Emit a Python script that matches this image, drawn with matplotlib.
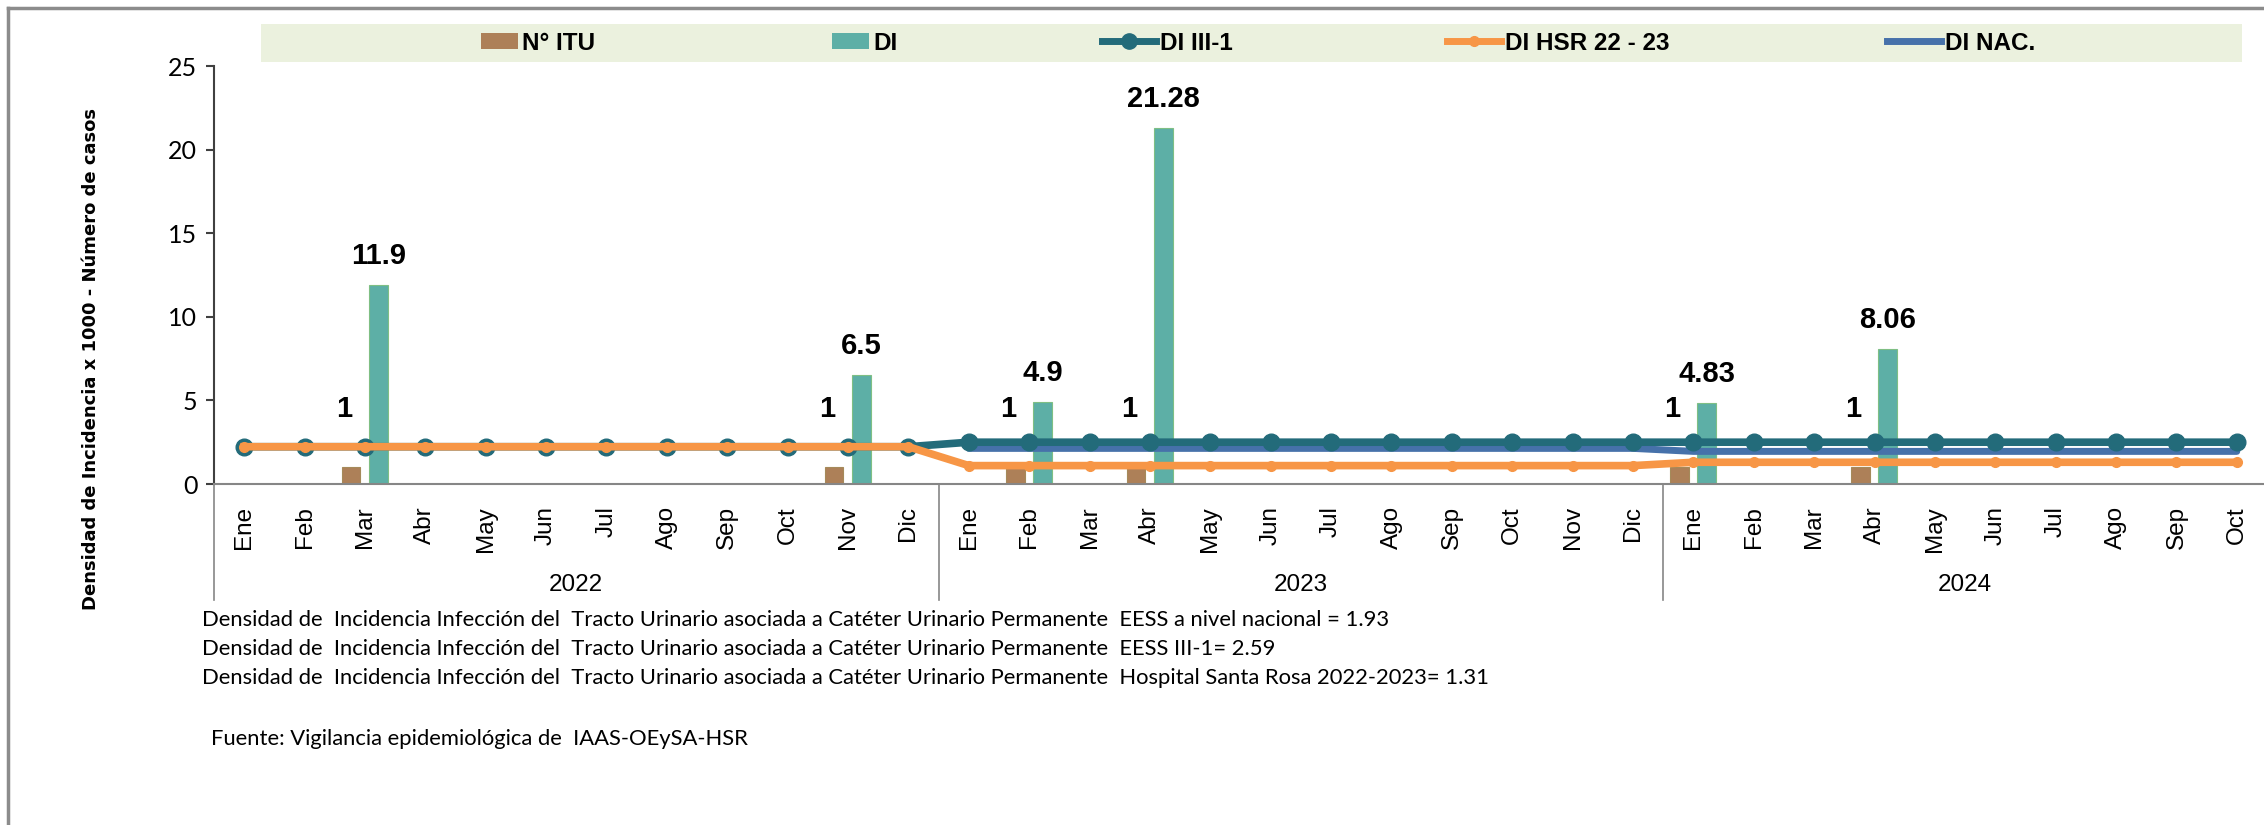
import matplotlib
matplotlib.use('Agg')
import matplotlib.pyplot as plt
import matplotlib.transforms as mtransforms
from matplotlib.patches import Rectangle, Patch
from matplotlib.lines import Line2D
import numpy as np

# datos
meses = ['Ene', 'Feb', 'Mar', 'Abr', 'May', 'Jun', 'Jul', 'Ago', 'Sep', 'Oct', 'Nov', 'Dic',
         'Ene', 'Feb', 'Mar', 'Abr', 'May', 'Jun', 'Jul', 'Ago', 'Sep', 'Oct', 'Nov', 'Dic',
         'Ene', 'Feb', 'Mar', 'Abr', 'May', 'Jun', 'Jul', 'Ago', 'Sep', 'Oct']
anios = ['2022', '2023', '2024']
meses_por_anio = [12, 12, 10]

n_itu = [np.nan, np.nan, 1, np.nan, np.nan, np.nan, np.nan, np.nan, np.nan, np.nan, 1, np.nan,
         np.nan, 1, np.nan, 1, np.nan, np.nan, np.nan, np.nan, np.nan, np.nan, np.nan, np.nan,
         1, np.nan, np.nan, 1, np.nan, np.nan, np.nan, np.nan, np.nan, np.nan]
di = [np.nan, np.nan, 11.9, np.nan, np.nan, np.nan, np.nan, np.nan, np.nan, np.nan, 6.5, np.nan,
      np.nan, 4.9, np.nan, 21.28, np.nan, np.nan, np.nan, np.nan, np.nan, np.nan, np.nan, np.nan,
      4.83, np.nan, np.nan, 8.06, np.nan, np.nan, np.nan, np.nan, np.nan, np.nan]
di_iii1 = [2.23, 2.23, 2.23, 2.23, 2.23, 2.23, 2.23, 2.23, 2.23, 2.23, 2.23, 2.23,
           2.5, 2.5, 2.5, 2.5, 2.5, 2.5, 2.5, 2.5, 2.5, 2.5, 2.5, 2.5,
           2.5, 2.5, 2.5, 2.5, 2.5, 2.5, 2.5, 2.5, 2.5, 2.5]
di_hsr = [2.23, 2.23, 2.23, 2.23, 2.23, 2.23, 2.23, 2.23, 2.23, 2.23, 2.23, 2.23,
          1.1, 1.1, 1.1, 1.1, 1.1, 1.1, 1.1, 1.1, 1.1, 1.1, 1.1, 1.1,
          1.3, 1.3, 1.3, 1.3, 1.3, 1.3, 1.3, 1.3, 1.3, 1.3]
di_nac = [np.nan, np.nan, np.nan, np.nan, np.nan, np.nan, np.nan, np.nan, np.nan, np.nan, np.nan, np.nan,
          2.13, 2.13, 2.13, 2.13, 2.13, 2.13, 2.13, 2.13, 2.13, 2.13, 2.13, 2.13,
          1.95, 1.95, 1.95, 1.95, 1.95, 1.95, 1.95, 1.95, 1.95, 1.95]

notas = [
    'Densidad de  Incidencia Infección del  Tracto Urinario asociada a Catéter Urinario Permanente  EESS a nivel nacional = 1.93',
    'Densidad de  Incidencia Infección del  Tracto Urinario asociada a Catéter Urinario Permanente  EESS III-1= 2.59',
    'Densidad de  Incidencia Infección del  Tracto Urinario asociada a Catéter Urinario Permanente  Hospital Santa Rosa 2022-2023= 1.31',
]
fuente = 'Fuente: Vigilancia epidemiológica de  IAAS-OEySA-HSR'

# colores
c_itu = '#AD8058'
c_di = '#5DAFA6'
c_iii1 = '#236B7A'
c_hsr = '#F79646'
c_nac = '#4671AA'
c_eje = '#868686'

W, H = 2264, 825
fig = plt.figure(figsize=(W / 100, H / 100), dpi=100)
ax = fig.add_axes([214 / W, 1 - 484 / H, (2267 - 214) / W, (484 - 66) / H])

x = np.arange(len(meses))
ancho = 0.31
ax.bar(x - 0.23, n_itu, ancho, color=c_itu, edgecolor='#A58A5A', linewidth=0.8, zorder=2)
ax.bar(x + 0.22, di, ancho, color=c_di, edgecolor='#7FBF84', linewidth=0.8, zorder=2)

ax.plot(x, di_nac, color=c_nac, linewidth=5, solid_capstyle='round', zorder=3)
ax.plot(x, di_iii1, color=c_iii1, linewidth=5.5, marker='o', markersize=12, zorder=4)
ax.plot(x, di_hsr, color=c_hsr, linewidth=5.5, marker='o', markersize=7, zorder=5)

# etiquetas de datos
for i in range(len(x)):
    if not np.isnan(n_itu[i]):
        ax.text(x[i] - 0.35, n_itu[i] + 3.5, f'{n_itu[i]:g}', ha='center', va='center',
                fontsize=21, fontweight='bold', family='Liberation Sans', zorder=6)
    if not np.isnan(di[i]):
        ax.text(x[i] + 0.22, di[i] + 1.75, f'{di[i]:g}', ha='center', va='center',
                fontsize=21, fontweight='bold', family='Liberation Sans', zorder=6)

ax.set_xlim(-0.5, len(meses) - 0.5)
ax.set_ylim(0, 25)
ax.set_yticks([0, 5, 10, 15, 20, 25])
ax.tick_params(axis='y', direction='out', length=6, width=1.5, color='#404040',
               labelsize=18, pad=6)
for lab in ax.get_yticklabels():
    lab.set_family('Lato')
ax.set_xticks(x)
ax.set_xticklabels(meses, rotation=90, fontsize=17.5, family='Liberation Sans')
ax.tick_params(axis='x', length=0, pad=16)

for s in ['top', 'right']:
    ax.spines[s].set_visible(False)
ax.spines['left'].set_color('#404040')
ax.spines['left'].set_linewidth(1.5)
ax.spines['bottom'].set_color(c_eje)
ax.spines['bottom'].set_linewidth(1.5)

# separadores de años
trans = mtransforms.blended_transform_factory(ax.transData, ax.transAxes)
inicio = -0.5
for anio, n in zip(anios, meses_por_anio):
    ax.plot([inicio, inicio], [0, -0.278], color=c_eje, linewidth=1.2, transform=trans, clip_on=False)
    ax.text(inicio + n / 2, -0.242, anio, transform=trans, ha='center', va='center',
            fontsize=17.5, family='Liberation Sans')
    inicio += n

ax.set_ylabel('Densidad de Incidencia x 1000 - Número de casos', fontsize=13,
              fontweight='bold', family='DejaVu Sans')
ax.yaxis.set_label_coords((100 - 214) / (2267 - 214), 0.5 - (359 - 275) / 418)

# leyenda
fig.patches.append(Rectangle((261 / W, 1 - 62 / H), (2242 - 261) / W, 38 / H,
                             transform=fig.transFigure, facecolor='#EBF1DE', edgecolor='none', zorder=0))
entradas = [
    (Patch(facecolor=c_itu), 'N° ITU', 469, 1.5),
    (Patch(facecolor=c_di), 'DI', 820, 1.5),
    (Line2D([], [], color=c_iii1, linewidth=5, marker='o', markersize=11), 'DI III-1', 1090, 2.2),
    (Line2D([], [], color=c_hsr, linewidth=5, marker='o', markersize=7), 'DI HSR 22 - 23', 1435, 2.2),
    (Line2D([], [], color=c_nac, linewidth=5), 'DI NAC.', 1875, 2.2),
]
for h, txt, px, hl in entradas:
    leg = fig.legend([h], [txt], loc='center left', bbox_to_anchor=(px / W, 1 - 43 / H),
                     frameon=False, borderpad=0, handlelength=hl, handleheight=0.6,
                     handletextpad=0.2,
                     prop={'family': 'Liberation Sans', 'weight': 'bold', 'size': 17.5})

# notas al pie
for k, nota in enumerate(notas):
    fig.text(202 / W, 1 - (620 + 29 * k) / H, nota, ha='left', va='center', fontsize=15.8,
             family='Lato')
fig.text(211 / W, 1 - 739 / H, fuente, ha='left', va='center', fontsize=15.8,
         family='Lato')

# marco exterior
fig.add_artist(Line2D([8 / W, 1], [1 - 8 / H, 1 - 8 / H], transform=fig.transFigure, color='#8C8C8C', linewidth=2.5))
fig.add_artist(Line2D([8 / W, 8 / W], [1 - 8 / H, 0], transform=fig.transFigure, color='#8C8C8C', linewidth=2.5))

fig.savefig('out.png', dpi=100, facecolor='white')
